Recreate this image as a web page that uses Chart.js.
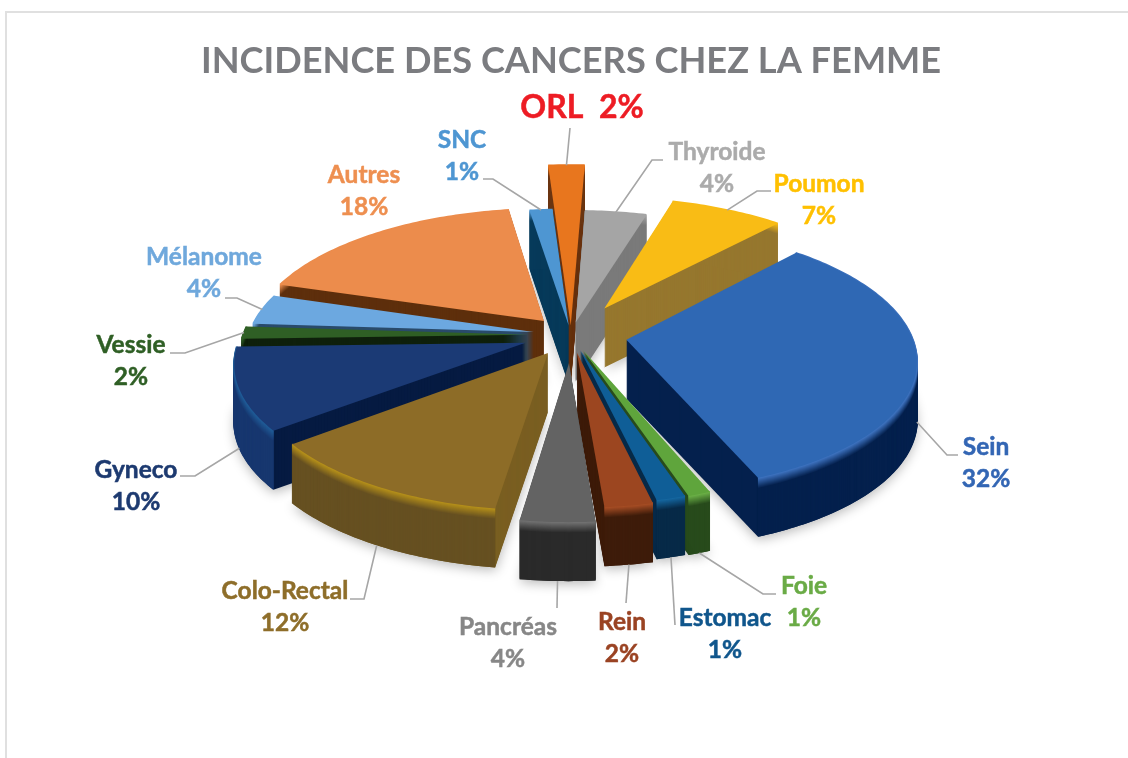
<!DOCTYPE html>
<html lang="fr">
<head>
<meta charset="utf-8">
<title>Incidence des cancers chez la femme</title>
<script src="https://cdn.jsdelivr.net/npm/chart.js@4"></script>
<style>
  html, body { margin: 0; padding: 0; background: #fff; overflow: hidden; }
  #wrap { position: relative; width: 1128px; height: 758px; }
  #frame { position: absolute; left: 5px; top: 11px; right: 0; bottom: 0; border-top: 2px solid #e0e0e0; border-left: 2px solid #e0e0e0; }
  canvas { position: absolute; left: 0; top: 0; }
</style>
</head>
<body>
<div id="wrap">
  <div id="frame"></div>
  <canvas id="myChart" width="1128" height="758"></canvas>
</div>
<script>
const categories = ['ORL', 'Thyroide', 'Poumon', 'Sein', 'Foie', 'Estomac', 'Rein', 'Pancréas', 'Colo-Rectal', 'Gyneco', 'Vessie', 'Mélanome', 'Autres', 'SNC'];
// shares, the labels print them rounded
const shares = [1.6, 3.9, 7.1, 31.8, 1.1, 1.4, 2.3, 3.5, 12.0, 10.0, 1.5, 3.7, 17.6, 1.4];

const topColors = ['#E8761E', '#A5A5A5', '#F9BC15', '#2F68B4', '#5FA53C', '#0F5E97', '#9C4620', '#636363', '#8D6C27', '#1B3A75', '#2F5F25', '#6CA8E0', '#EC8C4C', '#4E96D2'];
const faceColors = ['#6A3410', '#7A7A7A', '#96772E', '#04204D', '#284B1C', '#072A48', '#3E1C0A', '#2A2A2A', '#7A5F22', '#061B42', '#0F200C', '#2A4B6B', '#5E2F0C', '#073A5A'];
const wallColors = ['#6A3410', '#7A7A7A', '#96772E', '#04204D', '#284B1C', '#072A48', '#3E1C0A', '#2A2A2A', '#665021', '#17376F', '#0F200C', '#2A4B6B', '#5E2F0C', '#073A5A'];
const rimColors = ['#E8761E', '#A5A5A5', '#F9BC15', '#3C70BC', '#6AAE46', '#15669F', '#A44C24', '#707070', '#B38E1A', '#1F5A96', '#2F5F25', '#6CA8E0', '#EC8C4C', '#4E96D2'];
const textColors = ['#ED1C24', '#ABABAB', '#FFC000', '#3366B4', '#6AAB46', '#10568C', '#9A4323', '#878787', '#8E6E2A', '#1D3A70', '#2F5F25', '#6FA8DC', '#EE8F50', '#4E96D2'];

// how far each slice is pulled out of the pie, px
const explode = [22, 29, 70, 56, 35, 34, 38, 60, 45, 48, 43, 38, 42, 22];
// some slices are drawn longer than the others in the original, ORL most of all
const reach = [1.55, 1.02, 1.05, 1, 1, 1, 1, 1, 1.01, 1, 1, 1, 1.03, 1.06];

// first label line centre and the elbow of its leader, per category
const labelX = [582, 717, 819, 986, 804, 725, 622, 508, 285, 136, 131, 204, 364, 462];
const labelY = [108, 152, 184, 447, 586, 618, 622, 627, 591, 470, 345, 257, 175, 140];
const leaders = [
  [[570, 128]],
  [[663, 160], [652, 160]],
  [[771, 191], [757, 191]],
  [[958, 455], [947, 455]],
  [[776, 594], [763, 594]],
  [[675, 625]],
  [[626, 603]],
  [[557, 608]],
  [[350, 599], [364, 599]],
  [[180, 476], [195, 476]],
  [[170, 353], [185, 353]],
  [[225, 298], [237, 298]],
  null,
  [[483, 179], [493, 179]],
];

const squash = 0.45;
const persp = 0.14;
const depth = 59;
const rimSize = 10;

function mix(a, b, t) {
  const pa = [1, 3, 5].map((n) => parseInt(a.substr(n, 2), 16));
  const pb = [1, 3, 5].map((n) => parseInt(b.substr(n, 2), 16));
  const c = pa.map((v, i) => Math.round(v + (pb[i] - v) * t));
  return `rgb(${c[0]},${c[1]},${c[2]})`;
}

// disk coords (px from the pie centre) to screen
function project(arc, dx, dy, h) {
  const s = 1 / (1 - (persp * dy) / arc.outerRadius);
  return [arc.x + dx * s, arc.y + squash * dy * s + h];
}

function midAngle(arc) {
  return (arc.startAngle + arc.endAngle) / 2;
}

function rimPoint(arc, i, angle, h) {
  const mid = midAngle(arc);
  const r = arc.outerRadius * reach[i];
  return project(arc, Math.cos(mid) * explode[i] + Math.cos(angle) * r, Math.sin(mid) * explode[i] + Math.sin(angle) * r, h);
}

function tracePoints(ctx, arc, i, h) {
  const steps = Math.max(2, Math.ceil((arc.endAngle - arc.startAngle) * 60));
  for (let n = 0; n <= steps; n += 1) {
    const p = rimPoint(arc, i, arc.startAngle + ((arc.endAngle - arc.startAngle) * n) / steps, h);
    ctx.lineTo(p[0], p[1]);
  }
}

function slicePath(ctx, arc, i, h) {
  const mid = midAngle(arc);
  const apex = project(arc, Math.cos(mid) * explode[i], Math.sin(mid) * explode[i], h);
  ctx.beginPath();
  ctx.moveTo(apex[0], apex[1]);
  tracePoints(ctx, arc, i, h);
  ctx.closePath();
}

const pie3d = {
  id: 'pie3d',
  beforeDatasetDraw(chart, args) {
    const { ctx } = chart;
    const arcs = args.meta.data;
    const order = arcs
      .map((arc, i) => i)
      .sort((a, b) => Math.sin(midAngle(arcs[a])) - Math.sin(midAngle(arcs[b])));

    order.forEach((i) => {
      const arc = arcs[i];
      ctx.save();
      ctx.shadowColor = 'rgba(0,0,0,0.28)';
      ctx.shadowBlur = 12;
      ctx.shadowOffsetY = 3;
      ctx.fillStyle = faceColors[i];
      slicePath(ctx, arc, i, depth);
      ctx.fill();
      ctx.restore();

      ctx.fillStyle = faceColors[i];
      for (let h = depth - 1; h > 0; h -= 1) {
        slicePath(ctx, arc, i, h);
        ctx.fill();
      }
      // outer wall, with a soft rim where it meets the top
      ctx.lineWidth = 2;
      for (let h = depth - 1; h >= 0; h -= 1) {
        ctx.strokeStyle = h < rimSize ? mix(rimColors[i], wallColors[i], h / rimSize) : wallColors[i];
        ctx.beginPath();
        tracePoints(ctx, arc, i, h);
        ctx.stroke();
      }
      ctx.fillStyle = topColors[i];
      slicePath(ctx, arc, i, 0);
      ctx.fill();
    });
    return false;
  },
  afterDatasetsDraw(chart) {
    const { ctx } = chart;
    const arcs = chart.getDatasetMeta(0).data;

    // leaders end on the slice rim, at the bottom of the wall for the front slices
    ctx.strokeStyle = '#A6A6A6';
    ctx.lineWidth = 1.6;
    arcs.forEach((arc, i) => {
      if (!leaders[i]) return;
      const mid = midAngle(arc);
      const end = rimPoint(arc, i, mid, Math.sin(mid) > 0 ? depth : 0);
      ctx.beginPath();
      leaders[i].forEach((p, n) => (n === 0 ? ctx.moveTo(p[0], p[1]) : ctx.lineTo(p[0], p[1])));
      ctx.lineTo(end[0], end[1]);
      ctx.stroke();
    });

    ctx.textAlign = 'center';
    ctx.textBaseline = 'middle';
    ctx.lineWidth = 0.5;
    categories.forEach((name, i) => {
      const pct = `${Math.round(shares[i])}%`;
      ctx.fillStyle = textColors[i];
      ctx.strokeStyle = textColors[i];
      if (i === 0) {
        ctx.font = 'bold 32px Lato';
        ctx.fillText(`${name}  ${pct}`, labelX[i], labelY[i]);
        ctx.strokeText(`${name}  ${pct}`, labelX[i], labelY[i]);
        return;
      }
      ctx.font = 'bold 24.5px Lato';
      ctx.fillText(name, labelX[i], labelY[i]);
      ctx.strokeText(name, labelX[i], labelY[i]);
      ctx.fillText(pct, labelX[i], labelY[i] + 32);
      ctx.strokeText(pct, labelX[i], labelY[i] + 32);
    });
  },
};

const myChart = new Chart(document.getElementById('myChart'), {
  type: 'pie',
  data: {
    labels: categories,
    datasets: [{ data: shares, backgroundColor: topColors, borderWidth: 0, radius: 285 }],
  },
  options: {
    responsive: false,
    animation: false,
    events: [],
    rotation: -3.6,
    layout: { padding: { left: 14, right: 0, top: 0, bottom: 171 } },
    plugins: {
      legend: { display: false },
      tooltip: { enabled: false },
      title: {
        display: true,
        fullSize: false,
        text: 'INCIDENCE DES CANCERS CHEZ LA FEMME',
        color: '#7B7C80',
        font: { family: 'Lato', size: 36.2, weight: 'bold', lineHeight: 1.2 },
        padding: { top: 40, bottom: 0 },
      },
    },
  },
  plugins: [pie3d],
});
</script>
</body>
</html>
